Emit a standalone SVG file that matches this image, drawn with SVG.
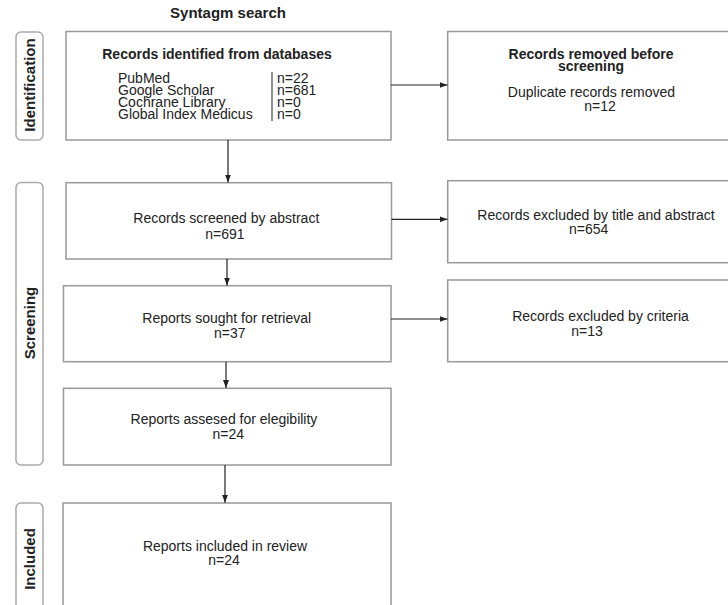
<svg xmlns="http://www.w3.org/2000/svg" width="728" height="605" viewBox="0 0 728 605">
<style>
  text { font-family: "Liberation Sans", Arial, sans-serif; fill: #222; }
  .t { font-size: 14px; text-anchor: middle; }
  .b { font-size: 14px; font-weight: bold; text-anchor: middle; }
  .title { font-size: 15px; font-weight: bold; text-anchor: middle; }
  .phase { font-size: 15px; font-weight: bold; text-anchor: middle; }
  .l { font-size: 14px; }
  .box { fill: #fff; stroke: #999; stroke-width: 1.5; }
  .pill { fill: #fff; stroke: #aaa; stroke-width: 1.5; }
  .conn { stroke: #222; stroke-width: 1.2; fill: none; }
</style>
<defs>
  <marker id="arr" viewBox="0 0 8 6" refX="8" refY="3" markerWidth="8" markerHeight="6" markerUnits="userSpaceOnUse" orient="auto">
    <path d="M0,0 L8,3 L0,6 z" fill="#222"/>
  </marker>
</defs>
<rect width="728" height="605" fill="#fff"/>
<text class="title" x="228" y="18">Syntagm search</text>

<g id="phase-identification">
  <rect class="pill" x="16" y="32" width="27" height="108" rx="5"/>
  <text class="phase" transform="translate(35,85) rotate(-90)">Identification</text>
</g>
<g id="phase-screening">
  <rect class="pill" x="16" y="182.5" width="27" height="282.5" rx="5"/>
  <text class="phase" transform="translate(35,323) rotate(-90)">Screening</text>
</g>
<g id="phase-included">
  <rect class="pill" x="16" y="503" width="27" height="120" rx="5"/>
  <text class="phase" transform="translate(34.5,559) rotate(-90)">Included</text>
</g>

<g id="records-identified">
  <rect class="box" x="66" y="31.5" width="325" height="108.5"/>
  <text class="b" x="217" y="58.5">Records identified from databases</text>
  <text class="l" x="118" y="82.5">PubMed</text>
  <text class="l" x="118" y="94.5">Google Scholar</text>
  <text class="l" x="118" y="106.5">Cochrane Library</text>
  <text class="l" x="118" y="118.5">Global Index Medicus</text>
  <line x1="272" y1="72" x2="272" y2="121" stroke="#222" stroke-width="1"/>
  <text class="l" x="277" y="82.5">n=22</text>
  <text class="l" x="277" y="94.5">n=681</text>
  <text class="l" x="277" y="106.5">n=0</text>
  <text class="l" x="277" y="118.5">n=0</text>
</g>
<g id="records-removed">
  <rect class="box" x="447.7" y="31.5" width="300" height="108.5"/>
  <text class="b" x="591" y="58.7">Records removed before</text>
  <text class="b" x="591" y="70.7">screening</text>
  <text class="t" x="591.5" y="96.7">Duplicate records removed</text>
  <text class="t" x="600" y="110.7">n=12</text>
</g>
<g id="records-screened">
  <rect class="box" x="66" y="182.7" width="325.5" height="76.3"/>
  <text class="t" x="226.3" y="222.7">Records screened by abstract</text>
  <text class="t" x="225" y="239.3">n=691</text>
</g>
<g id="records-excluded-title">
  <rect class="box" x="447.7" y="180.7" width="300" height="82"/>
  <text class="t" x="596" y="220">Records excluded by title and abstract</text>
  <text class="t" x="588.7" y="234.3">n=654</text>
</g>
<g id="reports-sought">
  <rect class="box" x="63.5" y="285.7" width="327.5" height="76"/>
  <text class="t" x="226.7" y="323.3">Reports sought for retrieval</text>
  <text class="t" x="229.7" y="337.7">n=37</text>
</g>
<g id="records-excluded-criteria">
  <rect class="box" x="447.7" y="280" width="300" height="81.7"/>
  <text class="t" x="600.5" y="320.7">Records excluded by criteria</text>
  <text class="t" x="587" y="335.7">n=13</text>
</g>
<g id="reports-assessed">
  <rect class="box" x="63.5" y="388.3" width="327.5" height="76.7"/>
  <text class="t" x="224" y="424">Reports assesed for elegibility</text>
  <text class="t" x="228.3" y="439.3">n=24</text>
</g>
<g id="reports-included">
  <rect class="box" x="63" y="503" width="328" height="120"/>
  <text class="t" x="225" y="551">Reports included in review</text>
  <text class="t" x="224" y="565">n=24</text>
</g>

<g id="connectors">
  <line class="conn" x1="228" y1="140" x2="228" y2="182.5" marker-end="url(#arr)"/>
  <line class="conn" x1="227" y1="259" x2="227" y2="285.5" marker-end="url(#arr)"/>
  <line class="conn" x1="226" y1="361.7" x2="226" y2="388" marker-end="url(#arr)"/>
  <line class="conn" x1="225" y1="465" x2="225" y2="502.7" marker-end="url(#arr)"/>
  <line class="conn" x1="391" y1="85" x2="447.5" y2="85" marker-end="url(#arr)"/>
  <line class="conn" x1="391.5" y1="219.3" x2="447.5" y2="219.3" marker-end="url(#arr)"/>
  <line class="conn" x1="391" y1="319" x2="447.5" y2="319" marker-end="url(#arr)"/>
</g>
</svg>
